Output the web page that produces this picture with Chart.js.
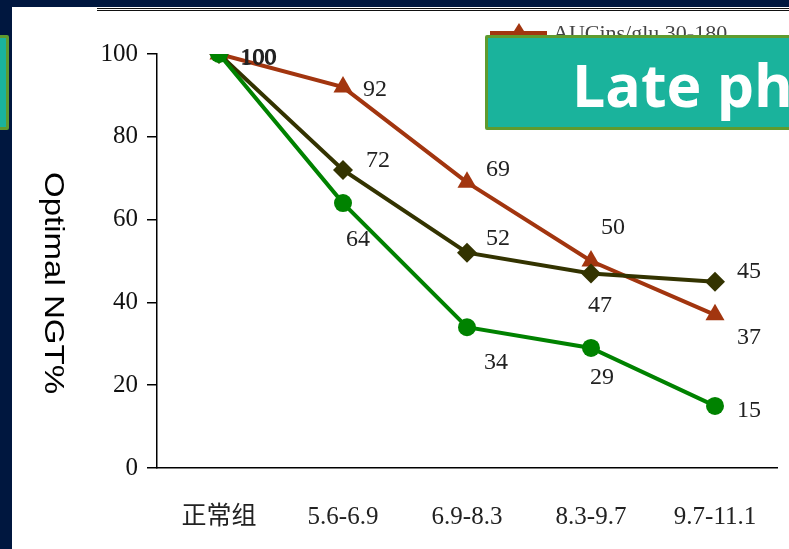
<!DOCTYPE html>
<html>
<head>
<meta charset="utf-8">
<script src="https://cdn.jsdelivr.net/npm/chart.js@4"></script>
<style>
  html, body { margin: 0; padding: 0; background: #fff; }
  #wrap { position: relative; width: 789px; height: 549px; overflow: hidden; background: #fff; }
  #chart { position: absolute; left: 0; top: 0; }
  .navyTop { position: absolute; left: 0; top: 0; width: 789px; height: 7px; background: #00173f; }
  .navyLeft { position: absolute; left: 0; top: 0; width: 12px; height: 549px; background: #00173f; }
  .rule { position: absolute; left: 97px; width: 692px; height: 1px; background: #111; }
  .leftBox { position: absolute; left: -6px; top: 35px; width: 9px; height: 89px; background: #1ab39c; border: 3px solid #5f9b2f; border-radius: 2px; }
  .titleBox { position: absolute; left: 485px; top: 35px; width: 320px; height: 89px; background: #1ab39c; border: 3px solid #5f9b2f; border-radius: 2px; }
  .titleBox span { position: absolute; left: 84px; top: 6px; font: bold 59px "Open Sans", sans-serif; color: #fff; white-space: nowrap; }
  .yTitle { position: absolute; left: 38px; top: 172px; writing-mode: vertical-rl; font: 28px "Liberation Sans", Arial, sans-serif; color: #000; white-space: nowrap; transform: scaleY(1.18); transform-origin: top left; }
  .legText { position: absolute; left: 553px; top: 20px; font: 22px "Liberation Serif", serif; color: #444; white-space: nowrap; }
</style>
</head>
<body>
<div id="wrap">
  <canvas id="chart" width="789" height="549"></canvas>
  <div class="navyTop"></div>
  <div class="navyLeft"></div>
  <div class="rule" style="top:8px"></div>
  <div class="rule" style="top:10px"></div>
  <div class="leftBox"></div>
  <div class="yTitle">Optimal NGT%</div>
  <div class="legText">AUCins/glu 30-180</div>
  <div class="titleBox"><span>Late phase</span></div>
</div>
<script>
const categories = ["正常组", "5.6-6.9", "6.9-8.3", "8.3-9.7", "9.7-11.1"];
const seriesRed = [100, 92, 69, 50, 37];
const seriesDark = [100, 72, 52, 47, 45];
const seriesGreen = [100, 64, 34, 29, 15];
const yTicks = [0, 20, 40, 60, 80, 100];

const COLORS = {
  red: "#a2350f",
  dark: "#333300",
  green: "#008200",
  axis: "#000",
};

// label nudges (px) so numbers sit where the original put them
const labelNudge = {
  red:   [[39, 4], [32, 3], [31, -13], [22, -33], [34, 23]],
  dark:  [[40, 4], [35, -9], [31, -14], [9, 32], [34, -10]],
  green: [[39, 5], [15, 37], [29, 35], [11, 30], [34, 5]],
};

const valueLabels = {
  id: "valueLabels",
  afterDatasetsDraw(chart) {
    const ctx = chart.ctx;
    ctx.save();
    ctx.font = '24px "Liberation Serif", serif';
    ctx.fillStyle = "#222";
    ctx.textAlign = "center";
    ctx.textBaseline = "middle";
    chart.data.datasets.forEach((ds, i) => {
      const meta = chart.getDatasetMeta(i);
      const nudges = labelNudge[ds.key];
      meta.data.forEach((pt, j) => {
        const n = nudges[j];
        if (!n) return;
        ctx.fillText(String(ds.data[j]), pt.x + n[0], pt.y + n[1]);
      });
    });
    ctx.restore();
  },
};

// legend fragment peeking out above the title box
const legendBit = {
  id: "legendBit",
  afterDraw(chart) {
    const ctx = chart.ctx;
    ctx.save();
    ctx.strokeStyle = COLORS.red;
    ctx.lineWidth = 4;
    ctx.beginPath();
    ctx.moveTo(490, 33);
    ctx.lineTo(547, 33);
    ctx.stroke();
    ctx.fillStyle = COLORS.red;
    ctx.beginPath();
    ctx.moveTo(519, 23);
    ctx.lineTo(529, 39);
    ctx.lineTo(509, 39);
    ctx.closePath();
    ctx.fill();
    ctx.restore();
  },
};

const line = (key, label, data, color, style, radius) => ({
  key,
  label,
  data,
  borderColor: color,
  backgroundColor: color,
  borderWidth: 4,
  pointStyle: style,
  pointRadius: radius,
  pointHoverRadius: radius,
  pointBorderWidth: 0,
  tension: 0,
});

new Chart(document.getElementById("chart"), {
  type: "line",
  data: {
    labels: categories,
    datasets: [
      line("green", "green", seriesGreen, COLORS.green, "circle", 9),
      line("dark", "dark", seriesDark, COLORS.dark, "rectRot", 10),
      line("red", "red", seriesRed, COLORS.red, "triangle", 11),
    ],
  },
  options: {
    responsive: false,
    animation: false,
    events: [],
    layout: { padding: { left: 40, right: 12, top: 54, bottom: 0 } },
    plugins: {
      legend: { display: false },
      tooltip: { enabled: false },
    },
    scales: {
      x: {
        offset: true,
        grid: { display: false, drawTicks: false },
        border: { color: COLORS.axis, width: 1.5 },
        ticks: {
          color: "#222",
          padding: 34,
          font: { family: '"Liberation Serif", "Noto Sans CJK SC", serif', size: 25 },
        },
        afterFit: (s) => { s.height = 81; s.paddingLeft = 0; s.paddingRight = 0; },
      },
      y: {
        min: 0,
        max: 100,
        afterBuildTicks: (s) => { s.ticks = yTicks.map((v) => ({ value: v })); },
        grid: { drawOnChartArea: false, tickLength: 10, color: COLORS.axis, lineWidth: 1.5 },
        border: { color: COLORS.axis, width: 1.5 },
        ticks: {
          color: "#111",
          padding: 9,
          font: { family: '"Liberation Serif", serif', size: 25 },
        },
        afterFit: (s) => { s.width = 117; },
      },
    },
  },
  plugins: [valueLabels, legendBit],
});
</script>
</body>
</html>
